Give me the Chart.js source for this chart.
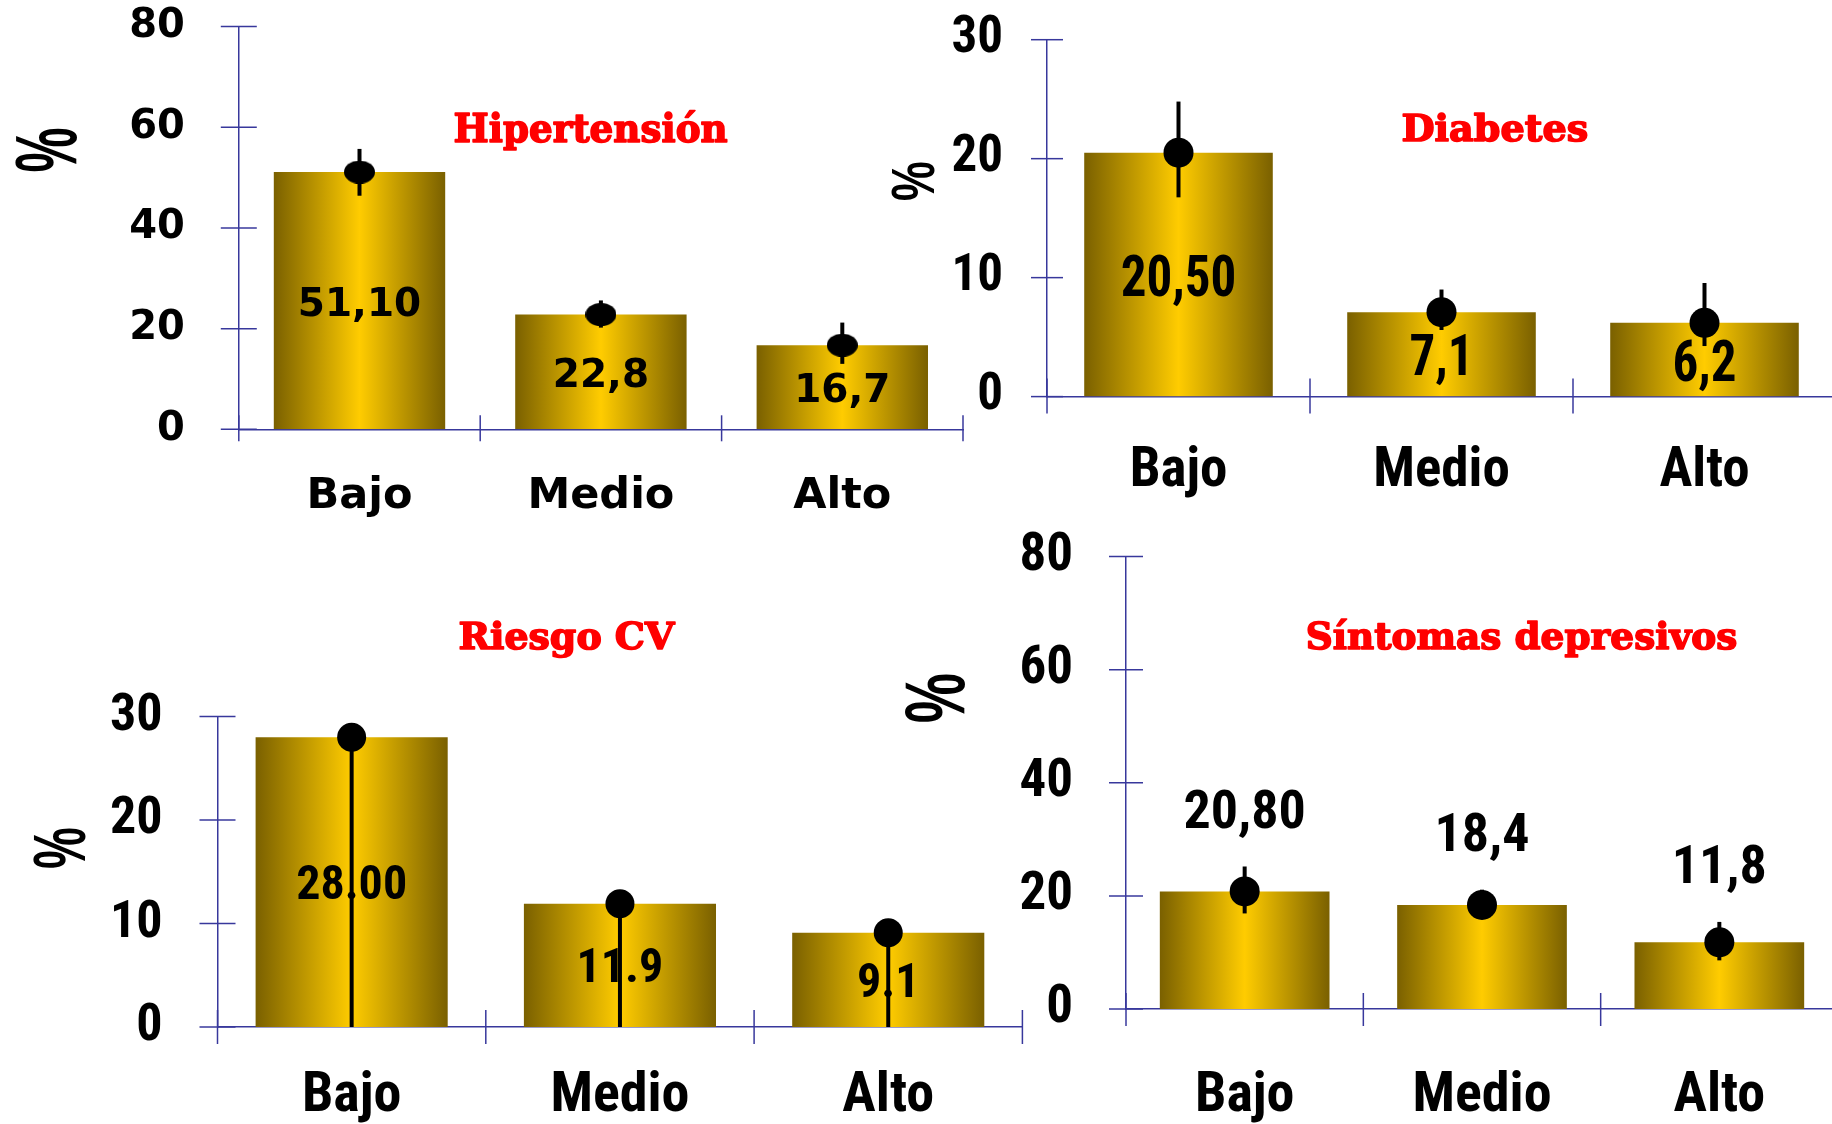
<!DOCTYPE html>
<html>
<head>
<meta charset="utf-8">
<title>Prevalencias por nivel</title>
<script src="https://cdn.jsdelivr.net/npm/chart.js@4.4.1/dist/chart.umd.min.js"></script>
<style>
  html, body { margin: 0; padding: 0; background: #fff; width: 1832px; height: 1124px; overflow: hidden; position: relative; }
  canvas { position: absolute; left: 0; top: 0; }
</style>
</head>
<body>
<canvas id="hta" width="1900" height="1250"></canvas>
<canvas id="dm" width="1900" height="1250"></canvas>
<canvas id="cv" width="1900" height="1250"></canvas>
<canvas id="dep" width="1900" height="1250"></canvas>
<script>
// ---- data ----
const categories = ['Bajo', 'Medio', 'Alto'];

const htaValues   = [51.1, 22.8, 16.7];
const htaErrPlus  = [4.6, 2.8, 4.5];
const htaErrMinus = [4.7, 2.6, 3.7];
const htaLabels   = ['51,10', '22,8', '16,7'];
const htaTicks    = [0, 20, 40, 60, 80];

const dmValues   = [20.5, 7.1, 6.2];
const dmErrPlus  = [4.3, 1.9, 3.35];
const dmErrMinus = [3.75, 1.5, 1.95];
const dmLabels   = ['20,50', '7,1', '6,2'];
const dmTicks    = [0, 10, 20, 30];

const cvValues   = [28.0, 11.9, 9.1];
const cvErrPlus  = [0, 0, 0];
const cvErrMinus = [28.0, 11.9, 9.1];
const cvLabels   = ['28.00', '11.9', '9.1'];
const cvTicks    = [0, 10, 20, 30];

const depValues   = [20.8, 18.4, 11.8];
const depErrPlus  = [4.4, 2.7, 3.6];
const depErrMinus = [3.9, 2.4, 3.2];
const depLabels   = ['20,80', '18,4', '11,8'];
const depTicks    = [0, 20, 40, 60, 80];

const panelTitles = ['Hipertensión', 'Diabetes', 'Riesgo CV', 'Síntomas depresivos'];
const valueAxisTitle = '%';

// ---- styling ----
const CW = 1900, CH = 1250;     // canvas size (page shows the top-left 1832x1124)
const Y_W = 220, X_H = 150;     // fixed axis box sizes
const AXIS_COLOR = '#38389c';
const BAR_DARK = '#7a6000';
const BAR_LIGHT = '#ffcc00';
const TITLE_RED = '#ff0000';
const SANS = "'DejaVu Sans'";
const NARROW = "'Roboto Condensed'";
const SLAB = "'DejaVu Serif'";

function ellipseMarker(w, h) {
  const c = document.createElement('canvas');
  c.width = w; c.height = h;
  const g = c.getContext('2d');
  g.fillStyle = '#000';
  g.beginPath();
  g.ellipse(w / 2, h / 2, w / 2, h / 2, 0, 0, Math.PI * 2);
  g.fill();
  return c;
}

// horizontal dark-light-dark gradient spanning each bar
function barGradient(pct) {
  return (c) => {
    const chart = c.chart, xs = chart.scales && chart.scales.x;
    if (c.type !== 'data' || !xs || !chart.chartArea) return BAR_LIGHT;
    const cx = xs.getPixelForValue(c.dataIndex);
    const w = xs.width / xs.getLabels().length * pct;
    const g = chart.ctx.createLinearGradient(cx - w / 2, 0, cx + w / 2, 0);
    g.addColorStop(0, BAR_DARK);
    g.addColorStop(0.5, BAR_LIGHT);
    g.addColorStop(1, BAR_DARK);
    return g;
  };
}

// draws text whose ink box is centred on cx, sitting on `baseline`,
// scaled so that capital height and total width hit the requested sizes
function fitText(ctx, text, family, cx, baseline, cap, width, heavy) {
  ctx.save();
  ctx.font = 'bold 100px ' + family;
  ctx.textAlign = 'left';
  ctx.textBaseline = 'alphabetic';
  const m = ctx.measureText(text);
  const capH = ctx.measureText('H').actualBoundingBoxAscent;
  const inkW = m.actualBoundingBoxLeft + m.actualBoundingBoxRight;
  ctx.translate(cx, baseline);
  const sx = width / inkW, sy = cap / capH;
  ctx.scale(sx, sy);
  const x0 = (m.actualBoundingBoxLeft - m.actualBoundingBoxRight) / 2;
  if (heavy) {
    ctx.strokeStyle = ctx.fillStyle;
    ctx.lineJoin = 'round';
    ctx.lineWidth = heavy / sy;
    ctx.strokeText(text, x0, 0);
  }
  ctx.fillText(text, x0, 0);
  ctx.restore();
}

// rotated "%" fitted into a box (v: extent along page x, h: along page y)
function fitRotated(ctx, text, family, cx, cy, v, h) {
  ctx.save();
  ctx.font = 'bold 100px ' + family;
  ctx.textAlign = 'left';
  ctx.textBaseline = 'alphabetic';
  const m = ctx.measureText(text);
  const inkW = m.actualBoundingBoxLeft + m.actualBoundingBoxRight;
  const inkH = m.actualBoundingBoxAscent + m.actualBoundingBoxDescent;
  ctx.translate(cx, cy);
  ctx.rotate(-Math.PI / 2);
  ctx.scale(h / inkW, v / inkH);
  ctx.fillText(text, (m.actualBoundingBoxLeft - m.actualBoundingBoxRight) / 2,
               (m.actualBoundingBoxAscent - m.actualBoundingBoxDescent) / 2);
  ctx.restore();
}

const panelDecor = {
  id: 'panelDecor',
  afterDatasetDraw(chart, args, o) {
    if (args.index !== 0) return;
    const ctx = chart.ctx, ys = chart.scales.y, meta = chart.getDatasetMeta(0);
    ctx.save();
    // value labels
    ctx.fillStyle = '#000';
    ctx.font = 'bold ' + o.labelSize + 'px ' + o.labelFamily;
    ctx.textAlign = 'center';
    ctx.textBaseline = 'alphabetic';
    const capH = ctx.measureText('0').actualBoundingBoxAscent;
    o.labels.forEach((txt, i) => {
      const bar = meta.data[i];
      const mid = o.labelAbove
        ? ys.getPixelForValue(o.values[i] + o.errPlus[i]) - o.labelGap
        : (bar.y + bar.base) / 2;
      ctx.save();
      ctx.translate(bar.x, mid + capH / 2);
      ctx.scale(o.labelScaleX, 1);
      ctx.fillText(txt, 0, 0);
      ctx.restore();
    });
    // error whiskers
    ctx.strokeStyle = '#000';
    ctx.lineWidth = o.whiskerWidth;
    o.values.forEach((v, i) => {
      const x = meta.data[i].x;
      ctx.beginPath();
      ctx.moveTo(x, ys.getPixelForValue(v + o.errPlus[i]));
      ctx.lineTo(x, ys.getPixelForValue(v - o.errMinus[i]));
      ctx.stroke();
    });
    ctx.restore();
  },
  afterDraw(chart, args, o) {
    const ctx = chart.ctx, xs = chart.scales.x, ys = chart.scales.y, a = chart.chartArea;
    ctx.save();
    ctx.strokeStyle = AXIS_COLOR;
    ctx.lineWidth = o.axisWidth;
    // value-axis tick marks crossing the axis line
    ys.ticks.forEach(t => {
      const y = ys.getPixelForValue(t.value);
      ctx.beginPath();
      ctx.moveTo(a.left - o.yTickOut, y);
      ctx.lineTo(a.left + o.yTickIn, y);
      ctx.stroke();
    });
    // category boundary marks
    const n = xs.getLabels().length, step = xs.width / n;
    for (let i = 0; i <= n; i++) {
      const x = xs.left + i * step;
      ctx.beginPath();
      ctx.moveTo(x, a.bottom - o.xTickUp);
      ctx.lineTo(x, a.bottom + o.xTickDown);
      ctx.stroke();
    }
    ctx.restore();
    // panel title
    ctx.fillStyle = TITLE_RED;
    const t = o.title;
    fitText(ctx, t.text, SLAB, t.cx, t.baseline, t.cap, t.width, 1.6);
    // value-axis title
    ctx.fillStyle = '#000';
    const p = o.unit;
    fitRotated(ctx, valueAxisTitle, "'Liberation Sans'", p.cx, p.cy, p.v, p.h);
  }
};

function panel(id, c) {
  const font = (family, size) => ({ family, size, weight: 'bold', lineHeight: 1 });
  return new Chart(document.getElementById(id), {
    data: {
      labels: categories,
      datasets: [
        {
          type: 'bar', data: c.values, order: 2,
          backgroundColor: barGradient(c.barPct),
          barPercentage: c.barPct, categoryPercentage: 1, borderWidth: 0
        },
        {
          type: 'line', data: c.values, order: 1, showLine: false,
          pointStyle: c.marker, pointRadius: c.dotRadius, pointHoverRadius: c.dotRadius,
          pointBackgroundColor: '#000', pointBorderWidth: 0
        }
      ]
    },
    options: {
      responsive: false, animation: false, events: [],
      layout: {
        padding: {
          left: c.area.left - Y_W, top: c.area.top,
          right: CW - c.area.right, bottom: CH - c.area.bottom - X_H
        }
      },
      scales: {
        x: {
          type: 'category', offset: true,
          grid: { display: false, drawTicks: false },
          border: { display: true, color: AXIS_COLOR, width: 1.5 },
          ticks: { font: font(c.family, c.catSize), color: '#000', padding: c.catPad, maxRotation: 0, autoSkip: false },
          afterFit: s => { s.height = X_H; s.paddingLeft = 0; s.paddingRight = 0; }
        },
        y: {
          min: c.ticks[0], max: c.ticks[c.ticks.length - 1],
          grid: { display: false, drawTicks: false },
          border: { display: true, color: AXIS_COLOR, width: 1.5 },
          ticks: { font: font(c.family, c.tickSize), color: '#000', padding: c.tickPad },
          afterBuildTicks: s => { s.ticks = c.ticks.map(v => ({ value: v })); },
          afterFit: s => { s.width = Y_W; s.paddingTop = 0; s.paddingBottom = 0; }
        }
      },
      plugins: {
        legend: { display: false },
        tooltip: { enabled: false },
        panelDecor: {
          values: c.values, errPlus: c.errPlus, errMinus: c.errMinus,
          labels: c.labels, labelFamily: c.family, labelSize: c.labelSize,
          labelScaleX: c.labelScaleX, labelAbove: !!c.labelAbove, labelGap: c.labelGap || 0,
          whiskerWidth: 4, axisWidth: 1.5,
          yTickOut: c.yTick[0], yTickIn: c.yTick[1], xTickUp: c.xTick[0], xTickDown: c.xTick[1],
          title: c.title, unit: c.unit
        }
      }
    },
    plugins: [panelDecor]
  });
}

panel('hta', {
  values: htaValues, errPlus: htaErrPlus, errMinus: htaErrMinus, labels: htaLabels, ticks: htaTicks,
  area: { left: 238.8, right: 963, top: 26.6, bottom: 429.3 },
  barPct: 0.71, marker: ellipseMarker(31, 23), dotRadius: 15,
  family: SANS, tickSize: 40, catSize: 43, labelSize: 39, labelScaleX: 1,
  tickPad: 54, catPad: 46.5,
  yTick: [18, 18], xTick: [14, 12],
  title: { text: panelTitles[0], cx: 591, baseline: 141.7, cap: 28.4, width: 272 },
  unit: { cx: 46, cy: 150, v: 62, h: 43 }
});

panel('dm', {
  values: dmValues, errPlus: dmErrPlus, errMinus: dmErrMinus, labels: dmLabels, ticks: dmTicks,
  area: { left: 1047, right: 1836, top: 39.7, bottom: 396.6 },
  barPct: 0.717, marker: 'circle', dotRadius: 15,
  family: NARROW, tickSize: 51, catSize: 55, labelSize: 58, labelScaleX: 0.88,
  tickPad: 44, catPad: 48.5,
  yTick: [16, 16], xTick: [18, 17],
  title: { text: panelTitles[1], cx: 1495, baseline: 141, cap: 27, width: 184 },
  unit: { cx: 913, cy: 181, v: 43, h: 38 }
});

panel('cv', {
  values: cvValues, errPlus: cvErrPlus, errMinus: cvErrMinus, labels: cvLabels, ticks: cvTicks,
  area: { left: 217.5, right: 1022.4, top: 716.5, bottom: 1027 },
  barPct: 0.716, marker: 'circle', dotRadius: 14.5,
  family: NARROW, tickSize: 52, catSize: 56, labelSize: 48, labelScaleX: 1,
  tickPad: 55, catPad: 42,
  yTick: [18, 18], xTick: [17, 17],
  title: { text: panelTitles[2], cx: 567.5, baseline: 649, cap: 27, width: 215 },
  unit: { cx: 60, cy: 848, v: 52, h: 40 }
});

panel('dep', {
  values: depValues, errPlus: depErrPlus, errMinus: depErrMinus, labels: depLabels, ticks: depTicks,
  area: { left: 1126, right: 1838, top: 556.6, bottom: 1009 },
  barPct: 0.715, marker: 'circle', dotRadius: 15,
  family: NARROW, tickSize: 53, catSize: 56, labelSize: 54, labelScaleX: 1,
  labelAbove: true, labelGap: 58,
  tickPad: 53, catPad: 59.5,
  yTick: [17, 17], xTick: [16, 17],
  title: { text: panelTitles[3], cx: 1522, baseline: 649, cap: 27, width: 428 },
  unit: { cx: 934.5, cy: 698, v: 61, h: 48 }
});
</script>
</body>
</html>
